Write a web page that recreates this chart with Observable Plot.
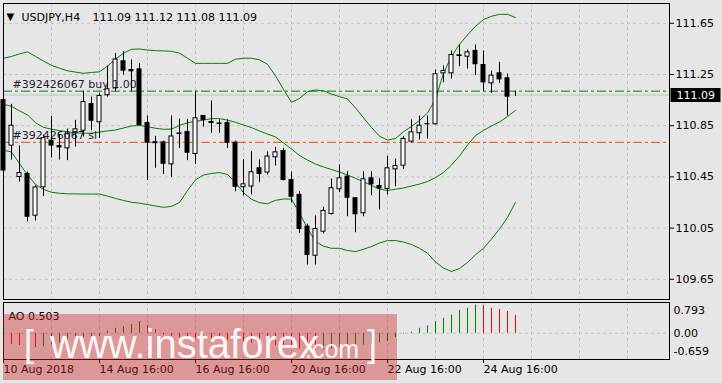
<!DOCTYPE html>
<html><head><meta charset="utf-8">
<script src="https://cdn.jsdelivr.net/npm/d3@7"></script>
<script src="https://cdn.jsdelivr.net/npm/@observablehq/plot@0.6"></script>
<style>
html,body{margin:0;padding:0;background:#e6e6e6;}
#wrap{position:relative;width:722px;height:383px;overflow:hidden;}
#wrap svg{position:absolute;left:0;}
</style></head><body><div id="wrap"></div>
<script>
// ---- data ----
const opens=[111.05,110.694,110.449,110.473,110.147,110.369,110.733,110.691,110.673,110.791,110.811,111.019,110.877,111.088,111.141,111.353,111.285,111.29,110.871,110.721,110.719,110.548,110.789,110.801,110.629,110.926,110.879,110.867,110.871,110.717,110.369,110.375,110.517,110.484,110.603,110.652,110.426,110.309,110.061,109.834,110.022,110.16,110.353,110.452,110.283,110.166,110.439,110.379,110.356,110.509,110.538,110.725,110.791,110.863,110.861,111.259,111.259,111.4,111.389,111.434,111.324,111.181,111.259,111.22,111.09];
const highs=[111.113,111.017,110.691,110.488,110.381,110.777,110.923,110.781,110.824,110.892,111.121,111.074,111.105,111.316,111.414,111.428,111.363,111.337,110.926,110.767,110.73,110.926,110.902,110.9,111.119,110.926,111.043,110.895,110.895,110.73,110.586,110.65,110.582,110.645,110.68,110.673,110.488,110.334,110.08,110.145,110.213,110.434,110.543,110.491,110.287,110.491,110.491,110.439,110.611,110.59,110.764,110.895,110.926,110.926,111.285,111.316,111.434,111.48,111.441,111.48,111.434,111.277,111.345,111.254,111.12];
const lows=[110.46,110.582,110.41,110.098,110.106,110.297,110.598,110.582,110.577,110.684,110.762,110.809,110.75,111.074,111.115,111.246,111.116,110.848,110.422,110.517,110.469,110.444,110.672,110.577,110.548,110.838,110.791,110.791,110.672,110.334,110.301,110.309,110.405,110.465,110.535,110.418,110.248,110.009,109.762,109.762,110.004,110.152,110.327,110.139,110.014,110.139,110.303,110.191,110.309,110.373,110.509,110.713,110.738,110.746,110.855,111.186,111.215,111.311,111.293,111.241,111.116,111.103,111.181,110.926,111.08];
const closes=[110.50,110.85,110.48,110.139,110.367,110.752,110.695,110.68,110.783,110.822,111.035,110.889,111.082,111.134,111.367,111.28,111.275,110.856,110.717,110.713,110.553,110.766,110.785,110.639,110.908,110.895,110.871,110.863,110.717,110.373,110.392,110.486,110.473,110.609,110.642,110.426,110.295,110.043,109.84,110.043,110.184,110.361,110.439,110.287,110.158,110.431,110.392,110.36,110.517,110.535,110.746,110.798,110.85,110.861,111.252,111.277,111.402,111.395,111.423,111.33,111.189,111.241,111.212,111.077,111.09];
const bbUpper=[111.377,111.391,111.411,111.427,111.391,111.355,111.321,111.299,111.279,111.269,111.259,111.266,111.271,111.315,111.370,111.416,111.447,111.449,111.441,111.436,111.434,111.431,111.417,111.377,111.337,111.337,111.337,111.337,111.337,111.370,111.377,111.377,111.365,111.329,111.239,111.134,111.032,111.063,111.116,111.129,111.123,111.097,111.077,111.059,110.989,110.912,110.836,110.768,110.738,110.750,110.803,110.845,110.891,110.949,111.059,111.259,111.392,111.486,111.559,111.627,111.679,111.705,111.720,111.720,111.695];
const bbMiddle=[111.018,111.001,110.966,110.934,110.873,110.837,110.823,110.812,110.802,110.795,110.791,110.792,110.800,110.809,110.816,110.832,110.848,110.852,110.843,110.830,110.822,110.824,110.852,110.873,110.884,110.893,110.906,110.905,110.894,110.876,110.855,110.835,110.809,110.785,110.762,110.715,110.668,110.617,110.582,110.551,110.527,110.508,110.488,110.465,110.439,110.412,110.383,110.355,110.344,110.354,110.363,110.379,110.394,110.414,110.445,110.484,110.543,110.613,110.699,110.773,110.813,110.848,110.879,110.922,110.969];
const bbLower=[110.659,110.645,110.553,110.466,110.391,110.352,110.330,110.322,110.318,110.317,110.316,110.316,110.316,110.300,110.282,110.266,110.252,110.245,110.234,110.223,110.212,110.220,110.250,110.344,110.427,110.465,110.477,110.484,110.469,110.406,110.327,110.275,110.249,110.240,110.267,110.277,110.277,110.166,110.049,109.945,109.909,109.892,109.892,109.875,109.866,109.885,109.906,109.934,109.952,109.953,109.941,109.922,109.892,109.854,109.785,109.738,109.711,109.734,109.781,109.842,109.892,109.965,110.043,110.133,110.252];
const aoValues=[-0.28,-0.31,-0.34,-0.38,-0.40,-0.38,-0.33,-0.28,-0.22,-0.16,-0.13,-0.11,-0.09,0.06,0.14,0.19,0.25,0.33,0.22,0.10,-0.05,-0.09,-0.12,-0.11,-0.14,-0.15,-0.17,-0.18,-0.20,-0.23,-0.26,-0.28,-0.30,-0.33,-0.35,-0.37,-0.40,-0.44,-0.49,-0.51,-0.46,-0.44,-0.41,-0.38,-0.36,-0.33,-0.30,-0.27,-0.23,-0.12,-0.02,0.03,0.14,0.21,0.33,0.42,0.51,0.64,0.70,0.793,0.78,0.70,0.67,0.61,0.503];
const priceTicks=[111.65,111.25,110.85,110.45,110.05,109.65];
const aoTicks=[0.793,0,-0.659];
const aoTickLabels=["0.793","0.00","-0.659"];
const timeLabelIndex=[0,12,24,36,48,60];
const timeLabels=["10 Aug 2018","14 Aug 16:00","16 Aug 16:00","20 Aug 16:00","22 Aug 16:00","24 Aug 16:00"];
const buyPrice=111.12, slPrice=110.72, lastPrice=111.09;
const symbolTitle="USDJPY,H4", ohlcTitle="111.09 111.12 111.08 111.09";
const orderBuyLabel="#392426067 buy 1.00", orderSlLabel="#392426067 sl";
const aoLabel="AO 0.503";
const watermarkText=["[","www.instaforex",".com","]"];

// ---- build ----
const candles=opens.map((o,i)=>({i,o,h:highs[i],l:lows[i],c:closes[i],lo:Math.min(o,closes[i]),hi:Math.max(o,closes[i]),up:closes[i]>o}));
const bands=bbUpper.map((u,i)=>({i,u,m:bbMiddle[i],lo:bbLower[i]}));
const ao=aoValues.map((v,i)=>({i,v,up:i>0&&v>aoValues[i-1]}));
const xDomain=[0,83.25];
const gridX=d3.range(6,84,6);
const grid={stroke:"#c4c4c4",strokeDasharray:"3,3"};
const font="'DejaVu Sans', sans-serif";
const tagSymbol={draw(ctx){ctx.moveTo(-25,-7);ctx.lineTo(25,-7);ctx.lineTo(25,7);ctx.lineTo(-25,7);ctx.closePath();}};
const green="#008000";

const main=Plot.plot({
  width:722,height:300,marginTop:3,marginRight:53,marginBottom:1,marginLeft:3,
  style:{background:"transparent",color:"#000",fontFamily:font,fontSize:"11px",overflow:"visible"},
  x:{domain:xDomain,axis:null},
  y:{domain:[109.4922,111.8047],axis:null},
  marks:[
    Plot.ruleY(priceTicks,grid),
    Plot.ruleX(gridX,grid),
    Plot.ruleY([lastPrice],{stroke:"#c0c0c0"}),
    Plot.ruleY([buyPrice],{stroke:green,strokeDasharray:"9,3,3,3"}),
    Plot.ruleY([slPrice],{stroke:"#ff4500",strokeDasharray:"9,3,3,3"}),
    Plot.line(bands,{x:"i",y:"u",stroke:green,strokeWidth:1}),
    Plot.line(bands,{x:"i",y:"m",stroke:green,strokeWidth:1}),
    Plot.line(bands,{x:"i",y:"lo",stroke:green,strokeWidth:1}),
    Plot.ruleX(candles,{x:"i",y1:"l",y2:"h",stroke:"#000"}),
    Plot.rect(candles,{x1:d=>d.i-0.25,x2:d=>d.i+0.25,y1:"lo",y2:"hi",fill:d=>d.up?"#fff":"#000",stroke:"#000"}),
    Plot.text([buyPrice],{y:d=>d,frameAnchor:"left",dx:9,dy:-6.5,textAnchor:"start",text:()=>orderBuyLabel,fill:"#1a1a30"}),
    Plot.text([slPrice],{y:d=>d,frameAnchor:"left",dx:9,dy:-7,textAnchor:"start",text:()=>orderSlLabel,fill:"#1a1a30"}),
    Plot.text(["▼"],{frameAnchor:"top-left",dx:3,dy:9,textAnchor:"start",fontSize:10}),
    Plot.text([symbolTitle],{frameAnchor:"top-left",dx:18,dy:10,textAnchor:"start"}),
    Plot.text([ohlcTitle],{frameAnchor:"top-left",dx:89,dy:10,textAnchor:"start"}),
    Plot.axisY(priceTicks,{anchor:"right",tickSize:4,tickPadding:2,tickFormat:d=>d.toFixed(2),label:null}),
    Plot.dot([lastPrice],{y:d=>d,frameAnchor:"right",dx:26,r:5,symbol:tagSymbol,fill:"#000",stroke:null}),
    Plot.text([lastPrice],{y:d=>d,frameAnchor:"right",dx:7,textAnchor:"start",fill:"#fff",text:d=>d.toFixed(2)}),
    Plot.frame({stroke:"#000"})
  ]
});
main.style.top="0px";

const aoTickDy=[5,0,-5];
const aoPlot=Plot.plot({
  width:722,height:83,marginTop:2,marginRight:53,marginBottom:24,marginLeft:3,
  style:{background:"transparent",color:"#000",fontFamily:font,fontSize:"11px",overflow:"visible"},
  x:{domain:xDomain,axis:null},
  y:{domain:[-0.7339,0.8627],axis:null},
  marks:[
    Plot.ruleX(gridX,grid),
    Plot.ruleY([0],grid),
    Plot.ruleX(ao,{x:"i",y1:0,y2:"v",stroke:d=>d.up?green:"#ff0000"}),
    Plot.text([aoLabel],{frameAnchor:"top-left",dx:5,dy:10,textAnchor:"start"}),
    ...aoTicks.map((t,k)=>Plot.text([t],{y:d=>d,frameAnchor:"right",dx:4,dy:aoTickDy[k],textAnchor:"start",text:()=>aoTickLabels[k]})),
    Plot.axisX(timeLabelIndex,{anchor:"bottom",tickSize:4,tickPadding:2,textAnchor:"start",tickFormat:d=>timeLabels[timeLabelIndex.indexOf(d)],label:null}),
    Plot.frame({stroke:"#000"})
  ]
});
aoPlot.style.top="300px";

const wrap=document.getElementById("wrap");
wrap.appendChild(main);
wrap.appendChild(aoPlot);

// watermark overlay
const wm=d3.create("svg").attr("width",722).attr("height",383).style("top","0px").style("pointer-events","none");
wm.append("rect").attr("x",3).attr("y",314).attr("width",394).attr("height",66).attr("fill","rgb(204,34,34)").attr("fill-opacity",0.4);
const wg=wm.append("g").attr("fill","#fff").attr("fill-opacity",0.92).attr("font-family","'Liberation Sans', Arial, sans-serif");
wg.append("text").attr("x",24).attr("y",355.5).attr("font-size",36).text(watermarkText[0]);
wg.append("text").attr("x",50).attr("y",358).attr("font-size",40).text(watermarkText[1]);
wg.append("text").attr("x",305).attr("y",358).attr("font-size",25).text(watermarkText[2]);
wg.append("text").attr("x",367).attr("y",355.5).attr("font-size",36).text(watermarkText[3]);
wrap.appendChild(wm.node());
</script></body></html>
